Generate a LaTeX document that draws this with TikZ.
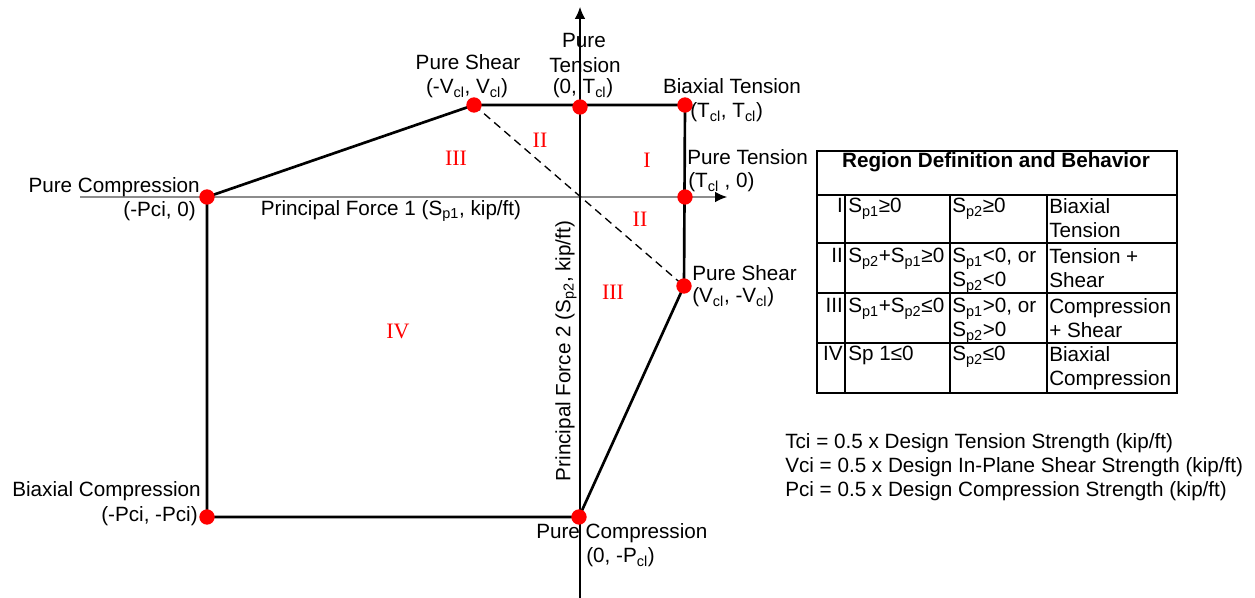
\documentclass[tikz,border=0pt]{standalone}
\usepackage{fontspec}
\setmainfont{Liberation Sans}
\newfontfamily\romfont{Liberation Serif}
\usepackage{tikz}
\usetikzlibrary{arrows.meta,positioning,calc}

\begin{document}
\begin{tikzpicture}[
  x=0.75pt, y=-0.75pt,
  font=\fontsize{15.5}{18}\selectfont,
  lbl/.style    ={inner sep=0pt, align=center},
  dot/.style    ={circle, fill=red, draw=none, minimum size=11.5pt, inner sep=0pt},
  edge/.style   ={line width=2pt, black},
  axis/.style   ={line width=0.9pt},
  rgn/.style    ={font=\romfont\fontsize{16.5}{18}\selectfont, text=red, inner sep=0pt},
  cell/.style   ={anchor=north west, align=left, inner sep=0pt,
                  font=\fontsize{15.5}{18}\selectfont},
  tline/.style  ={line width=1pt},
  ar/.style     ={-{Latex[length=9pt,width=8pt]}},
]
\useasboundingbox (0,0) rectangle (1255,598);

% ---------------- axes ----------------------------------------------------
\coordinate (xl) at (80,197);
\coordinate (xr) at (727,197);
\coordinate (yb) at (580,598);
\coordinate (yt) at (580,7);
\draw[axis, draw=black!45, -{Latex[length=9pt,width=8pt,color=black]}] (xl) -- (xr);
\draw[axis, ar] (yb) -- (yt);

\node[lbl] (xlab) at (391,211) {Principal Force 1 (S\textsubscript{p1}, kip/ft)};
\node[lbl, rotate=90] (ylab) at (566,351) {Principal Force 2 (S\textsubscript{p2}, kip/ft)};

% ---------------- interaction points --------------------------------------
\coordinate (pc1) at (207,197);
\coordinate (ps1) at (474,105);
\coordinate (pt0) at (580,107);
\coordinate (bt)  at (685,105);
\coordinate (pt1) at (685,197);
\coordinate (ps2) at (684,286);
\coordinate (pc0) at (579,517);
\coordinate (bc)  at (207,517);

% ---------------- envelope ------------------------------------------------
\draw[edge, line join=round] (pc1) -- (ps1) -- (bt) -- (ps2) -- (pc0) -- (bc) -- cycle;
\draw[line width=1pt, dash pattern=on 6pt off 4pt] (ps1) -- (ps2);

\foreach \p in {pc1,ps1,pt0,bt,pt1,ps2,pc0,bc}
  \node[dot] (d-\p) at (\p) {};

% ---------------- point labels --------------------------------------------
\node[lbl] (l-ps1a) at (468,62) {Pure Shear};
\node[lbl] (l-ps1b) at (467,88) {(-V\textsubscript{cl}, V\textsubscript{cl})};
\node[lbl] (l-pt0a) at (584,40) {Pure};
\node[lbl] (l-pt0b) at (585,65) {Tension};
\node[lbl] (l-pt0c) at (583,88) {(0, T\textsubscript{cl})};
\node[lbl] (l-bta)  at (732,86) {Biaxial Tension};
\node[lbl, anchor=west] (l-btb) at (690,112) {(T\textsubscript{cl}, T\textsubscript{cl})};
\node[lbl, anchor=west] (l-pt1a) at (687,157) {Pure Tension};
\node[lbl, anchor=west] (l-pt1b) at (688,182) {(T\textsubscript{cl} , 0)};
\node[lbl, anchor=west] (l-ps2a) at (692,273) {Pure Shear};
\node[lbl, anchor=west] (l-ps2b) at (692,297) {(V\textsubscript{cl}, -V\textsubscript{cl})};
\node[lbl, anchor=east] (l-pc1a) at (200,187) {Pure Compression};
\node[lbl, anchor=east] (l-pc1b) at (196,211) {(-Pci, 0)};
\node[lbl, anchor=east] (l-bca)  at (201,491) {Biaxial Compression};
\node[lbl, anchor=east] (l-bcb)  at (198,516) {(-Pci, -Pci)};
\node[lbl, anchor=west] (l-pc0a) at (536,533) {Pure Compression};
\node[lbl, anchor=west] (l-pc0b) at (586,557) {(0, -P\textsubscript{cl})};

% ---------------- regions -------------------------------------------------
\node[rgn] (r2a) at (540,140) {II};
\node[rgn] (r3a) at (456,158) {III};
\node[rgn] (r1)  at (647,160) {I};
\node[rgn] (r2b) at (640,219) {II};
\node[rgn] (r3b) at (613,292) {III};
\node[rgn] (r4)  at (398,331) {IV};

% ---------------- region table --------------------------------------------
\draw[tline] (817,151) rectangle (1177,393);
\foreach \y in {195,243,293,343}
  \draw[tline] (817,\y) -- (1177,\y);
\foreach \x in {845,950,1047}
  \draw[tline] (\x,195) -- (\x,393);
\node[lbl, font=\fontsize{15.5}{18}\selectfont\bfseries] (thead) at (996,162)
  {Region Definition and Behavior};

\node[lbl, anchor=north east] (n1) at (843,198) {I};
\node[cell] (a1) at (848,198) {S\textsubscript{p1}≥0};
\node[cell] (b1) at (952,198) {S\textsubscript{p2}≥0};
\node[cell] (c1) at (1049,198) {Biaxial\\Tension};

\node[lbl, anchor=north east] (n2) at (843,248) {II};
\node[cell] (a2) at (848,248) {S\textsubscript{p2}+S\textsubscript{p1}≥0};
\node[cell] (b2) at (952,248) {S\textsubscript{p1}<0, or\\S\textsubscript{p2}<0};
\node[cell] (c2) at (1049,248) {Tension +\\Shear};

\node[lbl, anchor=north east] (n3) at (843,298) {III};
\node[cell] (a3) at (848,298) {S\textsubscript{p1}+S\textsubscript{p2}≤0};
\node[cell] (b3) at (952,298) {S\textsubscript{p1}>0, or\\S\textsubscript{p2}>0};
\node[cell] (c3) at (1049,298) {Compression\\+ Shear};

\node[lbl, anchor=north east] (n4) at (843,346) {IV};
\node[cell] (a4) at (848,346) {Sp 1≤0};
\node[cell] (b4) at (952,346) {S\textsubscript{p2}≤0};
\node[cell] (c4) at (1049,346) {Biaxial\\Compression};

% ---------------- notes ---------------------------------------------------
\node[cell] (notes) at (785,433)
  {Tci = 0.5 x Design Tension Strength (kip/ft)\\
   Vci = 0.5 x Design In-Plane Shear Strength (kip/ft)\\
   Pci = 0.5 x Design Compression Strength (kip/ft)};

\end{tikzpicture}
\end{document}
